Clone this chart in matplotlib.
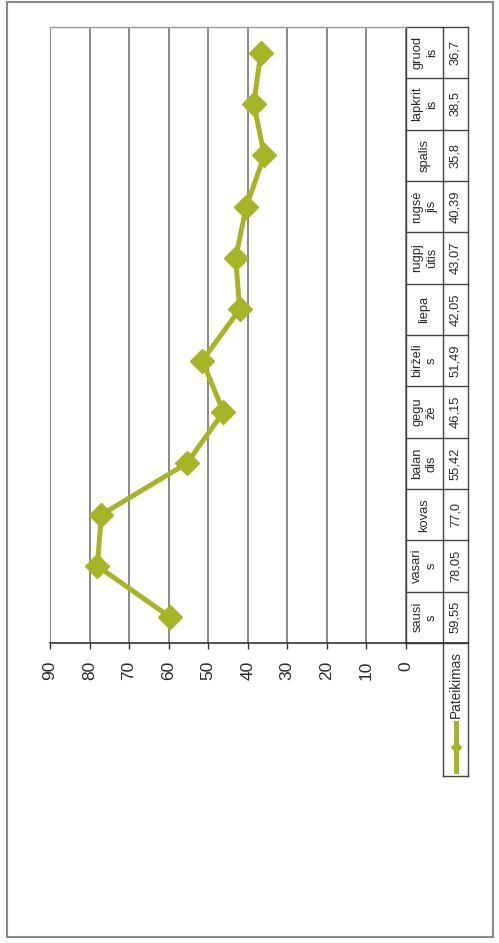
import numpy as np
import matplotlib
matplotlib.use("Agg")
import matplotlib.pyplot as plt
from matplotlib.lines import Line2D
from matplotlib.patches import Rectangle

plt.rcParams['font.family'] = ['Liberation Sans', 'DejaVu Sans']

# ---- data ----
categories = ["sausi\ns", "vasari\ns", "kovas", "balan\ndis", "gegu\nžė", "birželi\ns",
              "liepa", "rugpj\nūtis", "rugsė\njis", "spalis", "lapkrit\nis", "gruod\nis"]
values = [59.55, 78.05, 77.0, 55.42, 46.15, 51.49, 42.05, 43.07, 40.39, 35.8, 38.5, 36.7]
value_labels = ["59,55", "78,05", "77,0", "55,42", "46,15", "51,49",
                "42,05", "43,07", "40,39", "35,8", "38,5", "36,7"]
series_name = "Pateikimas"
ticks = [0, 10, 20, 30, 40, 50, 60, 70, 80, 90]

W, H = 499, 943
green = '#a6b526'
grid_c = '#6a6a6a'
txt_c = '#2a2a2a'

fig = plt.figure(figsize=(W / 100, H / 100), dpi=100)
fig.patch.set_facecolor('white')

def fx(px):
    return px / W

def fy(py):
    return 1 - py / H

# outer frame
fig.patches.append(Rectangle((fx(7), fy(937)), fx(493) - fx(7), fy(2) - fy(937),
                             transform=fig.transFigure, fill=False,
                             edgecolor='#8a8a8a', lw=1.5))

left_px, right_px, top_px, bot_px = 50, 406, 27, 643
ax = fig.add_axes([fx(left_px), fy(bot_px), fx(right_px) - fx(left_px), fy(top_px) - fy(bot_px)])

idx = np.arange(len(categories))
ax.plot(values, idx, color=green, lw=3.6, marker='D', ms=12,
        markerfacecolor=green, markeredgecolor=green, zorder=3, clip_on=False)

ax.set_xlim(90, 0)
ax.set_ylim(-0.5, len(categories) - 0.5)
ax.set_xticks(ticks)
ax.set_xticklabels([str(t) for t in ticks], rotation=90, fontsize=12.5, color=txt_c)
ax.tick_params(axis='x', direction='out', length=4, width=1, color='#333333', pad=9)
ax.set_yticks([])
ax.grid(axis='x', color=grid_c, lw=1.1)
ax.set_axisbelow(True)
for s in ['left', 'right']:
    ax.spines[s].set_visible(False)
ax.spines['top'].set_color('#9a9a9a')
ax.spines['top'].set_linewidth(1.0)
ax.spines['bottom'].set_color('#333333')
ax.spines['bottom'].set_linewidth(1.2)

# ---- data table (rotated) ----
tr = ax.get_yaxis_transform()  # x: axes fraction, y: data
aw = right_px - left_px
x0 = (406 - left_px) / aw
x1 = (443 - left_px) / aw
x2 = (468 - left_px) / aw
unit = (bot_px - top_px) / len(categories)
y_leg_bottom = -0.5 - (776 - bot_px) / unit

def seg(xs, ys, c='#444444', lw=1.0):
    ax.add_line(Line2D(xs, ys, transform=tr, color=c, lw=lw, clip_on=False))

n = len(categories)
for i in range(n + 1):
    seg([x0, x2], [i - 0.5, i - 0.5])
seg([x0, x0], [-0.5, n - 0.5])
seg([x1, x1], [y_leg_bottom, n - 0.5])
seg([x2, x2], [y_leg_bottom, n - 0.5])
seg([x1, x2], [y_leg_bottom, y_leg_bottom])
seg([x0, x2], [-0.5, -0.5], c='#333333', lw=1.2)

for i, (c, v) in enumerate(zip(categories, value_labels)):
    ax.text((x0 + x1) / 2, i, c, transform=tr, rotation=90, ha='center', va='center',
            multialignment='center', fontsize=9.3, color=txt_c, linespacing=1.3)
    ax.text((x1 + x2) / 2, i, v, transform=tr, rotation=90, ha='center', va='center',
            fontsize=9.3, color=txt_c)

# legend key inside the row-header cell
xm = (x1 + x2) / 2
ya = -0.5 - (723 - bot_px) / unit
yb = -0.5 - (771 - bot_px) / unit
ax.add_line(Line2D([xm, xm], [ya, yb], transform=tr, color=green, lw=3.6, clip_on=False))
ax.add_line(Line2D([xm], [(ya + yb) / 2], transform=tr, color=green, marker='D', ms=5,
                   lw=0, clip_on=False))
ax.text(xm, -0.5 - (684 - bot_px) / unit, series_name, transform=tr, rotation=90,
        ha='center', va='center', fontsize=9.8, color=txt_c)

fig.savefig('out.png', dpi=100, facecolor='white')
